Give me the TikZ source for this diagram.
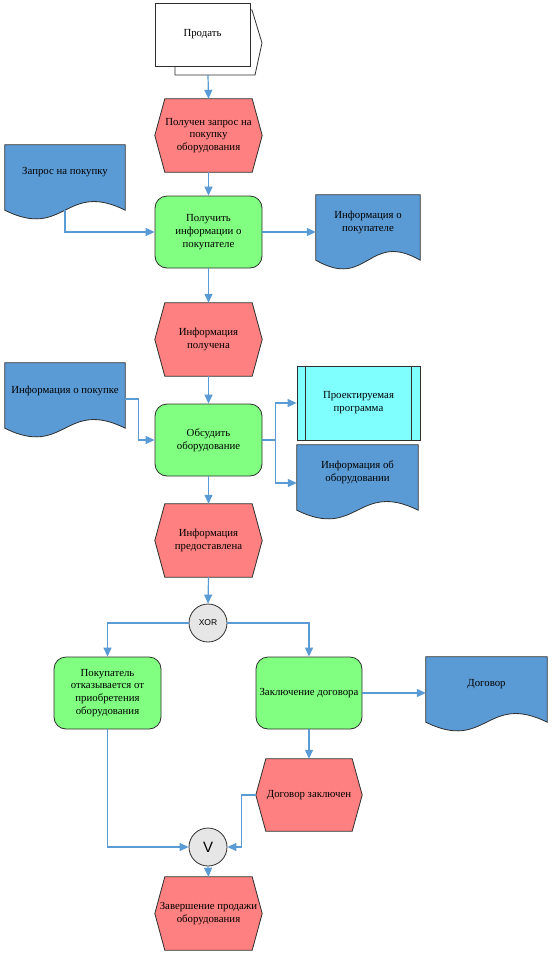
\documentclass[tikz,border=0pt]{standalone}
\usepackage{fontspec}
\setmainfont{Liberation Serif}
\newfontfamily\sansf{Liberation Sans}
\usetikzlibrary{arrows.meta,calc,backgrounds}
\definecolor{evred}{HTML}{FF8080}
\definecolor{fngreen}{HTML}{80FF80}
\definecolor{docblue}{HTML}{5B9BD5}
\definecolor{prcyan}{HTML}{80FFFF}
\definecolor{lnblue}{HTML}{5B9BD5}
\definecolor{gwgray}{HTML}{E6E6E6}
\definecolor{edgec}{HTML}{2F2F2F}
\tikzset{
 base/.style={font=\fontsize{10.8}{12.8}\selectfont, align=center, inner sep=0pt},
 evt/.style={base, minimum width=107pt, minimum height=73pt},
 fn/.style={base, draw=edgec, line width=0.8pt, fill=fngreen, rounded corners=12pt, minimum width=107pt, minimum height=72pt},
 docn/.style={base, minimum height=55pt},
 gw/.style={circle, draw=edgec, line width=0.8pt, fill=gwgray, minimum size=38pt, inner sep=0pt},
 conn/.style={draw=lnblue, line width=1.2pt, -{Triangle[length=9pt,width=8pt]}},
 outl/.style={draw=edgec, line width=0.8pt},
}
\newcommand\hexshape[2]{%
 \path[outl, fill=#2] ($(#1.north west)+(10,0)$) -- ($(#1.north east)+(-10,0)$) -- (#1.east) -- ($(#1.south east)+(-10,0)$) -- ($(#1.south west)+(10,0)$) -- (#1.west) -- cycle;}
\newcommand\docshape[1]{%
 \path[outl, fill=docblue] (#1.north west) -- (#1.north east) -- ($(#1.south east)+(0,10)$) .. controls ($(#1.south)+(0,-20)$) and ($(#1.south)+(0,40)$) .. ($(#1.south west)+(0,10)$) -- cycle;}
\begin{document}
\begin{tikzpicture}[x=1pt,y=-1pt]
\useasboundingbox (0,0) rectangle (552,958);
% nodes
\node[base, draw=edgec, line width=0.8pt, fill=white, minimum width=95pt, minimum height=63pt] (prod) at (202.5,34.5) {Продать};
\coordinate (prodb) at (208,75);
\node[evt] (ev1) at (208.5,135.5) {Получен запрос на\\покупку\\оборудования};
\node[fn] (f1) at (208.5,232) {Получить\\информации о\\покупателе};
\node[docn, minimum width=120pt] (d1) at (65,172.5) {Запрос на покупку};
\node[docn, minimum width=104pt] (d2) at (368,222.5) {Информация о\\покупателе};
\node[evt] (ev2) at (208.5,339.5) {Информация\\получена};
\node[fn] (f2) at (208.5,440) {Обсудить\\оборудование};
\node[docn, minimum width=120pt] (d3) at (65,390.5) {Информация о покупке};
\node[base, draw=edgec, line width=0.8pt, fill=prcyan, minimum width=123pt, minimum height=74pt] (prog) at (358.5,403) {Проектируемая\\программа};
\draw[outl] ([xshift=9pt]prog.north west) -- ([xshift=9pt]prog.south west);
\draw[outl] ([xshift=-9pt]prog.north east) -- ([xshift=-9pt]prog.south east);
\node[docn, minimum width=121pt] (d4) at (357.5,472.5) {Информация об\\оборудовании};
\node[evt] (ev3) at (208.5,540.5) {Информация\\предоставлена};
\node[gw, font=\sansf\fontsize{8.5}{10}\selectfont] (xor) at (208,623) {XOR};
\node[fn] (f3) at (107.5,693) {Покупатель\\отказывается от\\приобретения\\оборудования};
\node[fn, minimum width=106pt] (f4) at (309,693) {Заключение договора};
\node[docn, minimum width=121pt] (dog) at (486.5,684.5) {Договор};
\node[evt, minimum width=106pt, minimum height=72pt] (ev4) at (309,795) {Договор заключен};
\node[gw, font=\sansf\fontsize{15}{16}\selectfont] (v) at (208,847) {V};
\node[evt] (ev5) at (208.5,913.5) {Завершение продажи\\оборудования};
% background shapes
\begin{scope}[on background layer]
 \fill[white] (0,0) rectangle (552,958);
 \path[outl, fill=white] (175,10) -- (252,10) -- (262,43) -- (255,75) -- (175,75) -- cycle;
 \hexshape{ev1}{evred}
 \hexshape{ev2}{evred}
 \hexshape{ev3}{evred}
 \hexshape{ev4}{evred}
 \hexshape{ev5}{evred}
 \docshape{d1}
 \docshape{d2}
 \docshape{d3}
 \docshape{d4}
 \docshape{dog}
\end{scope}
% connectors
\draw[conn] (prodb) -- (ev1.north);
\draw[conn] (ev1.south) -- (f1.north);
\draw[conn] ($(d1.south)+(0,10)$) |- (f1.west);
\draw[conn] (f1.east) -- (f1.east -| d2.west);
\draw[conn] (f1.south) -- (ev2.north);
\draw[conn] (ev2.south) -- (f2.north);
\draw[conn] ([yshift=-8.5pt]d3.east) -- ++(13,0) |- (f2.west);
\draw[conn] (f2.east) -- ++(13,0) |- (prog.west);
\draw[conn] (f2.east) -- ++(13,0) |- ([yshift=-10.5pt]d4.west);
\draw[conn] (f2.south) -- (ev3.north);
\draw[conn] (ev3.south) -- (xor.north);
\draw[conn] (xor.west) -| (f3.north);
\draw[conn] (xor.east) -| (f4.north);
\draw[conn] (f4.east) -- (f4.east -| dog.west);
\draw[conn] (f4.south) -- (ev4.north);
\draw[conn] (ev4.west) -- ++(-14,0) |- (v.east);
\draw[conn] (f3.south) |- (v.west);
\draw[conn] (v.south) -- (ev5.north);
\end{tikzpicture}
\end{document}
